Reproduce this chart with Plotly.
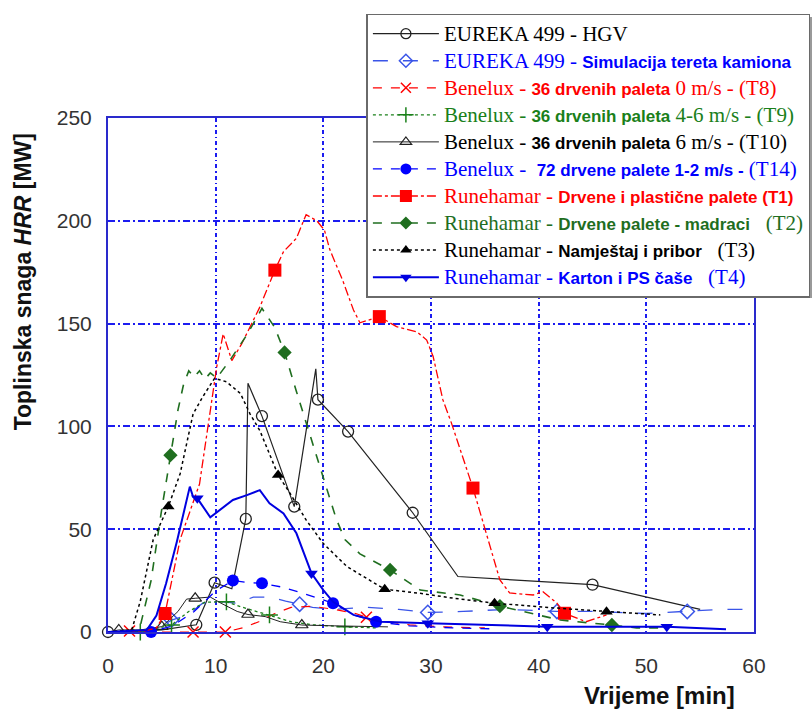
import plotly.graph_objects as go

# ---------------- data (time [min], HRR [MW]) ----------------
HGV_t = [0, 2, 5, 8.2, 9.9, 11.5, 12.8, 13.0, 14.3, 17.3, 19.3, 19.5, 22.3, 28.3, 32.5, 45, 55]
HGV_v = [0, 0, 1, 3.5, 24, 21, 55, 121, 105, 61, 128, 113, 97.5, 58, 27, 23, 11]
HGV_mk = [0, 3, 4, 6, 8, 9, 11, 12, 13, 15]

EUS_t = [0, 3, 5, 5.9, 7.3, 8.8, 10, 12, 13.5, 15, 16.5, 17.8, 19, 21, 24, 27, 29.7, 33, 37, 41.7, 45, 50, 53.8, 57, 60]
EUS_v = [0, 0, 3, 5.8, 8, 14, 15, 14, 17, 17, 15, 13.5, 12, 11, 12, 11, 9.5, 10, 11, 10, 10, 9, 10, 11, 11]
EUS_mk = [3, 11, 16, 19, 22]

T8_t = [0, 2, 5, 7.9, 10.9, 12.5, 14, 15.5, 17, 19, 21, 23, 24, 26, 28, 31, 35]
T8_v = [0, 0.5, 0, 0, 0, 2, 5, 9, 12, 12.5, 11, 9, 7.2, 5, 3.5, 2.5, 2]
T8_mk = [1, 3, 4, 12]

T9_t = [0, 3, 5.9, 7.5, 9, 11, 12.5, 15, 17, 19, 22, 25]
T9_v = [0, 0, 3.4, 10, 14.5, 14.7, 12, 8.3, 5, 3.5, 2.5, 2]
T9_mk = [1, 2, 5, 7, 10]

T10_t = [0, 1, 3, 5, 6.5, 7.3, 8.1, 9.5, 10.5, 12, 13, 14.6, 16, 18, 21, 24, 26]
T10_v = [0, 1, 1, 2.6, 10, 16, 16.4, 17, 14, 10, 8.5, 7.5, 5, 3.4, 3, 2.5, 2.5]
T10_mk = [1, 3, 6, 10, 13]

T14_t = [0, 4, 6, 8, 10, 11.6, 13, 14.3, 16, 18, 20.9, 23, 24.9, 28, 32, 36]
T14_v = [0, 0, 3, 10, 20, 25, 24, 23.7, 22, 19, 14, 8, 5, 3, 2, 1.5]
T14_mk = [1, 5, 7, 10, 12]

T1_t = [0, 3, 4.5, 5.3, 6.7, 8.5, 10.1, 10.7, 11.5, 12.4, 14.1, 15.5, 16.3, 17.5, 18.4, 19.4, 20.1, 20.6,
        21.8, 22.8, 23.4, 25.2, 26.8, 28.7, 29.6, 30.2, 31.1, 31.9, 33.9, 36.4, 37.3, 39.5, 40.4, 41.7,
        42.4, 44.4, 46.3]
T1_v = [0, 0, 2, 9, 45, 72, 129, 145, 132, 140, 158, 176, 185, 191.5, 203, 200, 195.5, 186,
        171, 156.6, 150.4, 153.4, 148.5, 146, 142, 134, 113, 101.6, 70, 25.3, 19, 18, 19.6, 14,
        9.1, 5, 8.3]
T1_mk = [3, 11, 21, 28, 34]

T2_t = [0, 2, 3, 4, 5, 5.8, 6.5, 7, 7.5, 8, 8.5, 9, 9.5, 10.1, 11.3, 12.9, 14.3, 15.5, 16.4, 17.5,
        18.4, 19.4, 20.3, 21.2, 22, 23.4, 26.2, 29, 32.7, 36.4, 42, 46.8, 49.1, 51.3]
T2_v = [0, 0, 3, 25, 60, 86, 108, 120, 127, 124, 127, 123, 126, 123.5, 132, 144.5, 157.4, 148, 136, 117,
        101.5, 85, 70, 55, 45, 38, 30.2, 20.4, 18, 12.6, 5.8, 3.4, 2, 2]
T2_mk = [5, 18, 26, 29, 31]

T3_t = [0, 2.2, 3, 4.2, 5.6, 6.7, 7.9, 8.8, 9.9, 11, 12.3, 13.2, 14.1, 15.8, 16.9, 18.4, 20, 22.2,
        25.7, 29, 32, 35.9, 42, 46.3, 51.3]
T3_v = [0, 1, 15, 45, 61, 77, 106, 114.4, 123.4, 121.7, 116, 106, 98, 76.4, 67.5, 54.5, 43, 31.8,
        20.8, 18.8, 16.5, 14, 11.5, 9.9, 8.3]
T3_mk = [4, 13, 18, 21, 23]

T4_t = [0, 3.6, 4.5, 5.4, 6.4, 7.0, 7.6, 7.9, 8.3, 9.5, 10.4, 11.6, 12.9, 14.1, 15.0, 16.3, 17.5,
        18.9, 20.0, 20.9, 22.8, 25.3, 29.7, 35, 40.8, 46, 51.9, 57.4]
T4_v = [0, 1, 8, 23.7, 44, 58, 70.7, 65.8, 65, 55.8, 59.3, 64.2, 66.6, 69, 62.6, 57.7, 48,
        28.5, 20.4, 14.7, 8.3, 5, 4.2, 3.5, 2.6, 2.5, 2.6, 1.3]
T4_mk = [8, 17, 22, 24, 26]

X_TICKS = [0, 10, 20, 30, 40, 50, 60]
Y_TICKS = [0, 50, 100, 150, 200, 250]

# ---------------- legend labels ----------------
SANS = "font-family:Arial;font-weight:bold;font-size:17px"
SERIF = "font-family:Liberation Serif;font-size:21px"


def lab(color, parts):
    out = ""
    for txt, bold in parts:
        st = f"color:{color};" + (SANS if bold else SERIF)
        out += f'<span style="{st}">{txt}</span>'
    return out


RED, GREEN, BLUE, BLACK = "#ff0000", "#1a801a", "#0000ff", "#000000"
DGREEN = "#1f6e1f"
LBLUE = "#3a55e8"

series = [
    dict(t=HGV_t, v=HGV_v, mk=HGV_mk, color="#222222", dash="solid", w=1.2,
         sym="circle-open", ms=11, mlw=1.3,
         name=lab(BLACK, [("EUREKA 499 - HGV", False)])),
    dict(t=EUS_t, v=EUS_v, mk=EUS_mk, color=LBLUE, dash="longdash", w=1.3,
         sym="diamond-open", ms=11, mlw=1.5,
         name=lab(BLUE, [("EUREKA 499 - ", False), ("Simulacija tereta kamiona", True)])),
    dict(t=T8_t, v=T8_v, mk=T8_mk, color=RED, dash="dash", w=1.2,
         sym="x-thin-open", ms=11, mlw=1.5,
         name=lab(RED, [("Benelux - ", False), ("36 drvenih paleta", True), (" 0 m/s - (T8)", False)])),
    dict(t=T9_t, v=T9_v, mk=T9_mk, color=GREEN, dash="dot", w=1.3,
         sym="cross-thin-open", ms=12, mlw=1.5,
         name=lab(GREEN, [("Benelux - ", False), ("36 drvenih paleta", True), (" 4-6 m/s - (T9)", False)])),
    dict(t=T10_t, v=T10_v, mk=T10_mk, color="#222222", dash="solid", w=1.0,
         sym="triangle-up-open", ms=11, mlw=1.2,
         name=lab(BLACK, [("Benelux - ", False), ("36 drvenih paleta", True), (" 6 m/s - (T10)", False)])),
    dict(t=T14_t, v=T14_v, mk=T14_mk, color=BLUE, dash="dash", w=1.3,
         sym="circle", ms=12, mlw=0,
         name=lab(BLUE, [("Benelux -  ", False), ("72 drvene palete 1-2 m/s -", True), (" (T14)", False)])),
    dict(t=T1_t, v=T1_v, mk=T1_mk, color=RED, dash="dashdot", w=1.3,
         sym="square", ms=13, mlw=0,
         name=lab(RED, [("Runehamar - ", False), ("Drvene i plastične palete (T1)", True)])),
    dict(t=T2_t, v=T2_v, mk=T2_mk, color=DGREEN, dash="dash", w=1.6,
         sym="diamond", ms=11, mlw=0,
         name=lab(DGREEN, [("Runehamar - ", False), ("Drvene palete - madraci", True), ("   (T2)", False)])),
    dict(t=T3_t, v=T3_v, mk=T3_mk, color=BLACK, dash="dot", w=1.5,
         sym="triangle-up", ms=11, mlw=0,
         name=lab(BLACK, [("Runehamar - ", False), ("Namještaj i pribor", True), ("   (T3)", False)])),
    dict(t=T4_t, v=T4_v, mk=T4_mk, color="#0000e0", dash="solid", w=2.0,
         sym="triangle-down", ms=11, mlw=0,
         name=lab(BLUE, [("Runehamar - ", False), ("Karton i PS čaše", True), ("   (T4)", False)])),
]

fig = go.Figure()
for i, s in enumerate(series):
    sizes = [s["ms"] if k in s["mk"] else 0 for k in range(len(s["t"]))]
    line = dict(color=s["color"], dash=s["dash"], width=s["w"])
    # curve with markers at the sampled points
    fig.add_trace(go.Scatter(
        x=s["t"], y=s["v"], mode="lines+markers", showlegend=False,
        legendgroup=f"g{i}", cliponaxis=False, line=line,
        marker=dict(symbol=s["sym"], size=sizes, color=s["color"], opacity=1,
                    line=dict(color=s["color"], width=s["mlw"])),
    ))
    # legend entry
    fig.add_trace(go.Scatter(
        x=[None], y=[None], mode="lines+markers", name=s["name"],
        legendgroup=f"g{i}", line=line,
        marker=dict(symbol=s["sym"], size=s["ms"] - 1, color=s["color"], opacity=1,
                    line=dict(color=s["color"], width=s["mlw"])),
    ))

GRID = "#1c1cf0"
fig.update_xaxes(range=[0, 60], tickvals=X_TICKS, showgrid=True, gridcolor=GRID,
                 griddash="4px,3px,1.5px,3px", gridwidth=1.6,
                 showline=True, mirror=True, linecolor="#2a2acc", linewidth=2,
                 zeroline=False, ticks="", ticklabelstandoff=14,
                 tickfont=dict(family="Arial", size=21, color="#333333"))
fig.update_yaxes(range=[0, 250], tickvals=Y_TICKS, showgrid=True, gridcolor=GRID,
                 griddash="7px,3px,2px,3px", gridwidth=2,
                 showline=True, mirror=True, linecolor="#2a2acc", linewidth=2,
                 zeroline=False, ticks="", ticklabelstandoff=10,
                 tickfont=dict(family="Arial", size=21, color="#333333"))

fig.add_annotation(text="Toplinska snaga <i>HRR</i> [MW]", textangle=-90, xref="paper", yref="paper",
                   x=-0.131, y=0.681, xanchor="center", yanchor="middle", showarrow=False,
                   font=dict(family="Arial", size=23, color="#111111", weight="bold"))
fig.add_annotation(text="Vrijeme [min]", xref="paper", yref="paper",
                   x=0.854, y=-0.1226, xanchor="center", yanchor="middle", showarrow=False,
                   font=dict(family="Arial", size=24, color="#111111", weight="bold"))

# legend drop shadow
fig.add_shape(type="rect", xref="paper", yref="paper",
              x0=(371 - 108) / 646, x1=(816 - 108) / 646,
              y0=(632 - 298) / 514, y1=(632 - 17) / 514,
              fillcolor="#9a9a9a", line=dict(width=0), layer="above")

fig.update_layout(
    width=812, height=720, margin=dict(l=108, r=58, t=118, b=88, autoexpand=False),
    plot_bgcolor="white", paper_bgcolor="white",
    legend=dict(x=0.40, y=1.203, xanchor="left", yanchor="top",
                bgcolor="white", bordercolor="#6a6a6a", borderwidth=1.5,
                font=dict(family="Liberation Serif", size=18.5, color="black"),
                itemwidth=66, tracegroupgap=0),
)

fig.write_html("out.html")
